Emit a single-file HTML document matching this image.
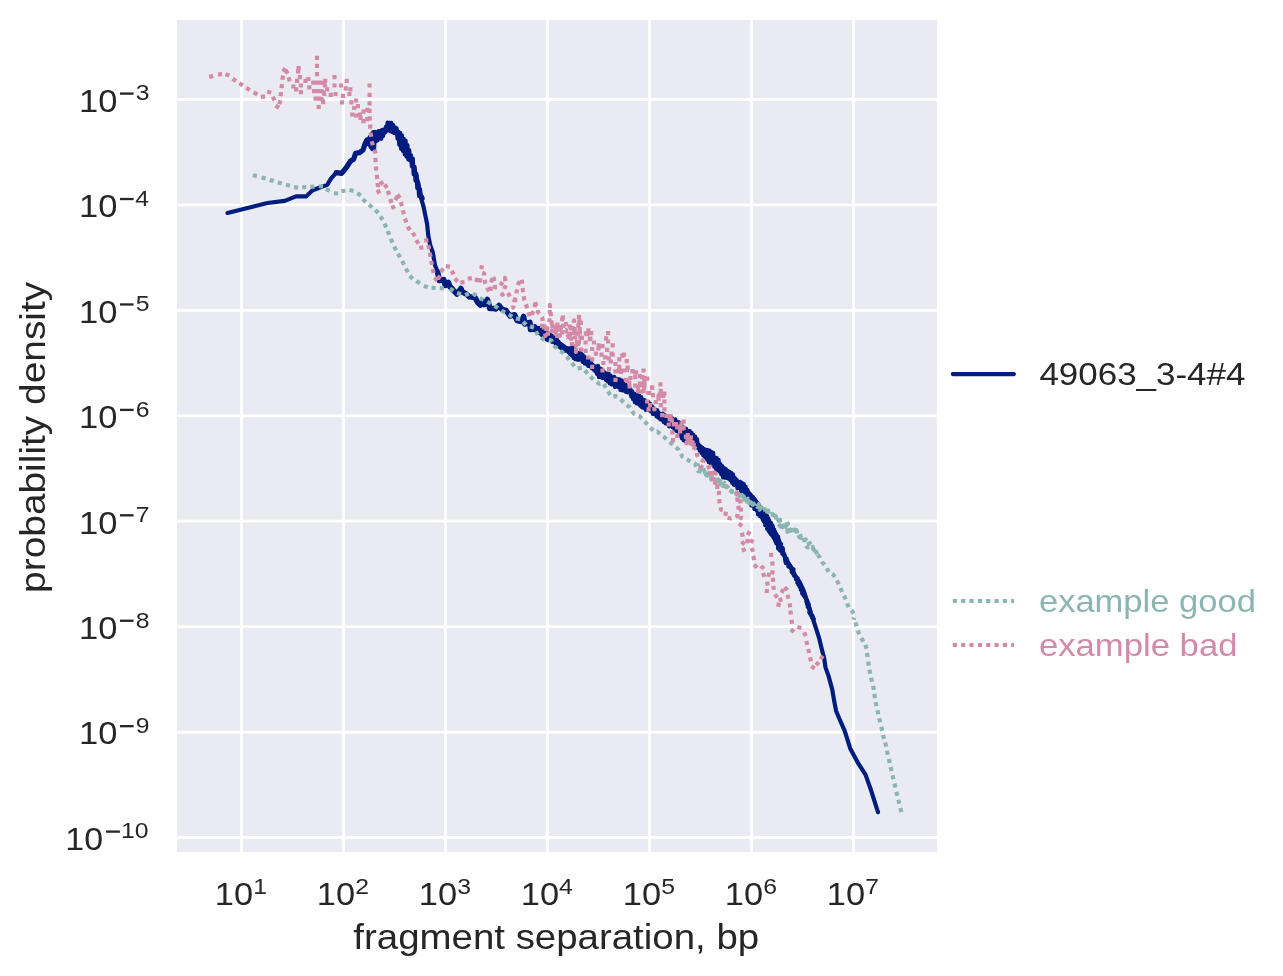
<!DOCTYPE html>
<html><head><meta charset="utf-8"><style>
html,body{margin:0;padding:0;background:#fff;width:1283px;height:976px;overflow:hidden}
svg{display:block;will-change:transform}
text{font-family:"Liberation Sans",sans-serif}
</style></head><body>
<svg width="1283" height="976" viewBox="0 0 1283 976">
<defs><clipPath id="pc"><rect x="177" y="20" width="760" height="832"/></clipPath></defs>
<rect x="177" y="20" width="760" height="832" fill="#eaeaf2"/>
<path d="M241.50 20V852 M343.50 20V852 M445.50 20V852 M547.50 20V852 M649.50 20V852 M751.50 20V852 M853.50 20V852 M177 99.50H937 M177 204.93H937 M177 310.36H937 M177 415.79H937 M177 521.22H937 M177 626.65H937 M177 732.08H937 M177 837.51H937" stroke="#fff" stroke-width="2.78" fill="none"/>
<g clip-path="url(#pc)"><path d="M227.5 213.0 L267.4 203.0 L284.8 200.9 L296.0 196.4 L306.0 196.4 L312.3 190.5 L318.5 188.0 L327.2 184.9 L331.0 178.7 L336.3 172.6 L341.6 173.3 L345.0 169.3 L347.0 166.6 L350.3 161.3 L353.6 159.3 L355.6 153.3 L359.6 152.6 L363.0 150.0 L365.0 144.0 L367.0 140.0 L369.6 142.0 L371.6 148.0 L373.6 145.3 L375.0 138.6 L380.0 134.6 L385.0 131.8 L390.0 127.0 L395.0 130.5 L400.0 140.0 L405.0 148.0 L410.0 155.5 L413.0 165.0 L416.0 174.5 L418.5 185.0 L421.3 199.0 L423.6 206.8 L425.5 216.2 L427.1 224.0 L428.3 235.7 L430.2 245.0 L432.9 252.8 L434.1 260.0 L435.1 265.6 L437.5 271.8 L439.5 280.5 L443.7 279.5 L445.3 285.5 L448.4 282.5 L449.9 286.5 L453.1 290.0 L457.0 294.0 L460.9 288.5 L462.4 292.0 L466.3 294.0 L469.4 296.8 L474.9 297.5 L478.0 302.8 L480.3 305.0 L481.9 301.4 L484.2 304.5 L487.4 299.5 L488.9 304.6 L489.7 308.5 L493.6 308.5 L495.9 309.0 L499.0 305.5 L502.2 309.5 L506.1 310.5 L510.0 316.0 L514.6 314.8 L517.0 320.5 L521.6 321.5 L523.6 316.5 L524.9 324.0 L529.9 322.3 L530.5 329.5 L534.9 329.0 L541.1 328.6 L542.3 333.0 L549.8 337.3 L554.8 339.8 L561.0 345.5 L567.3 349.5 L573.5 348.5 L574.8 355.0 L579.8 353.5 L586.0 359.2 L591.0 364.2 L598.5 369.0 L604.7 373.0 L612.0 380.0 L620.0 385.0 L628.0 390.5 L637.0 399.0 L645.0 403.5 L655.0 411.0 L665.0 418.0 L677.0 424.8 L690.0 436.5 L700.0 446.0 L710.0 456.0 L720.0 465.0 L730.0 474.0 L740.0 484.0 L750.0 494.0 L756.0 501.0 L762.4 511.0 L767.4 519.0 L772.4 527.0 L777.4 536.5 L778.6 543.5 L782.4 550.0 L784.9 557.0 L788.6 563.5 L792.3 569.0 L794.8 575.0 L799.8 582.5 L803.6 590.3 L806.1 598.0 L808.6 605.0 L809.9 613.0 L813.0 619.0 L816.1 628.7 L819.3 638.7 L821.7 648.7 L824.2 658.6 L825.5 667.4 L828.6 676.1 L832.3 689.8 L834.2 701.0 L836.1 711.0 L839.8 719.7 L844.7 730.9 L850.2 748.4 L857.8 762.6 L865.5 774.6 L870.9 789.8 L878.0 812.2" stroke="#001c7f" stroke-width="4.17" stroke-linejoin="round" stroke-linecap="round" fill="none"/>
<path d="M437.5 271.8 L439.5 280.5 L443.7 279.5 L445.3 285.5 L448.4 282.5 L449.9 286.5 L453.1 290.0 L457.0 294.0 L460.9 288.5 L462.4 292.0 L466.3 294.0 L469.4 296.8 L474.9 297.5 L478.0 302.8 L480.3 305.0 L481.9 301.4 L484.2 304.5 L487.4 299.5 L488.9 304.6 L489.7 308.5 L493.6 308.5 L495.9 309.0 L499.0 305.5 L502.2 309.5 L506.1 310.5 L510.0 316.0 L514.6 314.8 L517.0 320.5 L521.6 321.5 L523.6 316.5 L524.9 324.0 L529.9 322.3 L530.5 329.5 L534.9 329.0 L541.1 328.6 L542.3 333.0 L549.8 337.3 L554.8 339.8 L561.0 345.5 L567.3 349.5 L573.5 348.5 L574.8 355.0 L579.8 353.5 L586.0 359.2 L591.0 364.2" stroke="#001c7f" stroke-width="5.6" stroke-linejoin="round" stroke-linecap="round" fill="none"/>
<path d="M336.3 172.6 L341.6 173.3 L345.0 169.3 L347.0 166.6 L350.3 161.3 L353.6 159.3 L355.6 153.3 L359.6 152.6 L363.0 150.0 L365.0 144.0 L367.0 140.0" stroke="#001c7f" stroke-width="5.2" stroke-linejoin="round" stroke-linecap="round" fill="none"/>
<path d="M366.0 141.0 L366.9 143.3 L367.8 139.7 L368.7 144.4 L369.6 137.0 L370.5 146.8 L371.4 134.0 L372.3 149.1 L373.2 132.1 L374.1 148.6 L375.0 131.8 L375.9 141.2 L376.8 132.7 L377.7 140.4 L378.6 131.2 L379.5 138.3 L380.4 131.2 L381.3 138.8 L382.2 129.9 L383.1 135.9 L384.0 129.5 L384.9 132.7 L385.8 126.8 L386.7 130.7 L387.6 122.6 L388.5 130.0 L389.4 122.9 L390.3 131.2 L391.2 122.8 L392.1 131.9 L393.0 124.7 L393.9 132.8 L394.8 127.1 L395.7 133.5 L396.6 128.4 L397.5 138.6 L398.4 131.7 L399.3 144.8 L400.2 132.9 L401.1 148.9 L402.0 135.3 L402.9 151.0 L403.8 138.8 L404.7 154.5 L405.6 140.5 L406.5 156.7 L407.4 145.0 L408.3 159.4 L409.2 150.2 L410.1 160.4 L411.0 155.2 L411.9 166.4 L412.8 158.5 L413.7 174.4 L414.6 166.8 L415.5 180.7 L416.4 174.0 L417.3 188.2 L418.2 182.5 L419.1 196.0 L420.0 189.3 L420.9 197.2 L421.8 196.4 L422.7 198.6" stroke="#001c7f" stroke-width="4.17" stroke-linejoin="round" stroke-linecap="round" fill="none"/>
<path d="M535.0 326.0 L535.9 330.6 L536.8 327.8 L537.7 332.7 L538.6 328.4 L539.5 333.2 L540.4 328.8 L541.3 334.8 L542.2 331.1 L543.1 337.0 L544.0 332.7 L544.9 337.2 L545.8 332.9 L546.7 339.6 L547.6 333.1 L548.5 340.3 L549.4 334.4 L550.3 340.2 L551.2 335.2 L552.1 342.0 L553.0 336.5 L553.9 341.8 L554.8 338.2 L555.7 344.4 L556.6 338.8 L557.5 344.9 L558.4 341.6 L559.3 347.0 L560.2 344.0 L561.1 348.3 L562.0 344.7 L562.9 348.6 L563.8 346.2 L564.7 350.8 L565.6 348.7 L566.5 350.6 L567.4 348.5 L568.3 352.1 L569.2 349.0 L570.1 354.1 L571.0 349.4 L571.9 355.7 L572.8 348.0 L573.7 358.1 L574.6 350.3 L575.5 359.2 L576.4 353.0 L577.3 359.7 L578.2 353.7 L579.1 359.8 L580.0 355.7 L580.9 359.1 L581.8 358.0 L582.7 361.9 L583.6 359.7 L584.5 363.3 L585.4 359.4 L586.3 363.8 L587.2 359.4 L588.1 365.9 L589.0 360.5 L589.9 366.3 L590.8 362.8 L591.7 368.1 L592.6 365.0 L593.5 369.5 L594.4 366.4 L595.3 371.5 L596.2 366.5 L597.1 374.0 L598.0 365.9 L598.9 377.1 L599.8 368.3 L600.7 377.1 L601.6 369.4 L602.5 378.0 L603.4 371.0 L604.3 378.0 L605.2 373.2 L606.1 380.2 L607.0 373.5 L607.9 381.5 L608.8 373.9 L609.7 383.3 L610.6 375.5 L611.5 384.4 L612.4 377.6 L613.3 384.6 L614.2 376.8 L615.1 387.0 L616.0 378.5 L616.9 386.4 L617.8 379.3 L618.7 387.2 L619.6 379.3 L620.5 390.0 L621.4 380.4 L622.3 390.3 L623.2 381.3 L624.1 390.6 L625.0 383.3 L625.9 391.9 L626.8 385.5 L627.7 392.4 L628.6 386.2 L629.5 391.8 L630.4 388.8 L631.3 396.4 L632.2 391.2 L633.1 399.2 L634.0 393.5 L634.9 402.2 L635.8 394.1 L636.7 403.4 L637.6 395.3 L638.5 403.9 L639.4 395.6 L640.3 405.7 L641.2 397.1 L642.1 407.4 L643.0 399.5 L643.9 407.8 L644.8 400.4 L645.7 409.8 L646.6 402.0 L647.5 409.5 L648.4 402.1 L649.3 410.3 L650.2 403.7 L651.1 411.4 L652.0 406.2 L652.9 413.9 L653.8 408.3 L654.7 414.3 L655.6 409.7 L656.5 416.4 L657.4 410.4 L658.3 417.5 L659.2 413.4 L660.1 419.1 L661.0 414.0 L661.9 419.9 L662.8 413.7 L663.7 421.9 L664.6 414.9 L665.5 423.3 L666.4 417.1 L667.3 423.9 L668.2 416.8 L669.1 426.3 L670.0 418.2 L670.9 426.2 L671.8 417.7 L672.7 427.2 L673.6 420.0 L674.5 429.6 L675.4 419.3 L676.3 430.8 L677.2 421.7 L678.1 431.5 L679.0 422.3 L679.9 434.8 L680.8 423.7 L681.7 438.1 L682.6 427.2 L683.5 440.1 L684.4 427.8 L685.3 441.2 L686.2 428.9 L687.1 441.5 L688.0 431.0 L688.9 440.7 L689.8 431.2 L690.7 441.6 L691.6 432.8 L692.5 443.3 L693.4 434.8 L694.3 444.3 L695.2 436.6 L696.1 447.0 L697.0 439.1 L697.9 447.9 L698.8 445.9 L699.7 450.6 L700.6 446.7 L701.5 453.2 L702.4 447.9 L703.3 455.3 L704.2 449.0 L705.1 457.1 L706.0 449.9 L706.9 459.3 L707.8 450.0 L708.7 462.2 L709.6 450.7 L710.5 463.2 L711.4 452.1 L712.3 464.9 L713.2 452.9 L714.1 466.6 L715.0 457.5 L715.9 468.9 L716.8 458.1 L717.7 470.2 L718.6 459.8 L719.5 471.5 L720.4 464.1 L721.3 474.4 L722.2 466.0 L723.1 477.5 L724.0 468.2 L724.9 477.6 L725.8 469.1 L726.7 478.0 L727.6 470.8 L728.5 478.6 L729.4 471.9 L730.3 479.9 L731.2 472.8 L732.1 482.8 L733.0 474.3 L733.9 484.8 L734.8 477.9 L735.7 485.3 L736.6 479.8 L737.5 488.2 L738.4 481.9 L739.3 488.0 L740.2 481.9 L741.1 491.0 L742.0 483.0 L742.9 493.5 L743.8 484.0 L744.7 496.3 L745.6 486.5 L746.5 497.7 L747.4 489.9 L748.3 498.4 L749.2 493.7 L750.1 498.2 L751.0 496.2 L751.9 501.8 L752.8 497.0 L753.7 504.3 L754.6 499.5 L755.5 506.0 L756.4 502.8 L757.3 509.6 L758.2 503.7 L759.1 511.7 L760.0 507.3 L760.9 514.4 L761.8 509.1 L762.7 516.5 L763.6 512.6 L764.5 518.1 L765.4 514.7 L766.3 521.0 L767.2 516.1 L768.1 523.4 L769.0 520.5 L769.9 526.9 L770.8 522.7 L771.7 531.0 L772.6 527.4" stroke="#001c7f" stroke-width="4.17" stroke-linejoin="round" stroke-linecap="round" fill="none"/>
<path d="M748.2 500.0 L754.4 500.9 L748.4 501.8 L755.4 502.7 L750.9 503.6 L756.9 504.5 L751.2 505.4 L758.2 506.3 L754.1 507.2 L760.0 508.1 L754.3 509.0 L760.1 509.9 L757.0 510.8 L762.3 511.7 L757.9 512.6 L762.7 513.5 L758.0 514.4 L765.3 515.3 L759.9 516.2 L765.7 517.1 L762.0 518.0 L768.4 518.9 L762.8 519.8 L769.0 520.7 L764.0 521.6 L770.2 522.5 L765.1 523.4 L771.6 524.3 L765.2 525.2 L772.6 526.1 L767.4 527.0 L772.8 527.9 L767.0 528.8 L774.1 529.7 L768.5 530.6 L774.2 531.5 L769.6 532.4 L775.0 533.3 L770.9 534.2 L776.4 535.1 L772.4 536.0 L778.1 536.9 L773.6 537.8 L778.5 538.7 L774.6 539.6 L779.1 540.5 L775.5 541.4 L779.7 542.3 L776.2 543.2 L781.1 544.1 L777.7 545.0 L780.6 545.9 L778.1 546.8 L782.6 547.7 L778.1 548.6 L783.0 549.5 L779.9 550.4 L782.9 551.3 L781.9 552.2 L783.3 553.1 L782.5 554.0 L784.5 554.9 L784.4 555.8 L784.9 556.7 L784.8 557.6 L786.6 558.5 L785.1 559.4 L787.1 560.3 L785.3 561.2 L787.6 562.1 L785.8 563.0 L788.7 563.9 L788.2 564.8 L790.1 565.7 L788.4 566.6 L790.9 567.5 L790.9 568.4 L793.5 569.3 L791.7 570.2 L793.1 571.1 L791.8 572.0 L793.8 572.9 L793.1 573.8 L794.3 574.7 L794.0 575.6 L795.2 576.5 L795.9 577.4 L797.6 578.3 L796.0 579.2 L797.3 580.1 L797.7 581.0 L798.5 581.9 L797.4 582.8 L799.0 583.7 L798.4 584.6 L800.6 585.5 L799.5 586.4 L800.8 587.3 L800.4 588.2 L801.2 589.1 L800.9 590.0 L802.0 590.9 L802.0 591.8 L802.5 592.7 L802.2 593.6 L803.5 594.5 L803.5 595.4 L804.6 596.3 L805.0 597.2 L805.5 598.1 L806.0 599.0 L806.2 599.9 L807.1 600.8 L806.4 601.7 L806.8 602.6 L808.3 603.5 L807.2 604.4 L808.6 605.3 L808.7 606.2 L807.8 607.1 L809.6 608.0 L809.8 608.9 L809.8 609.8 L810.0 610.7 L810.7 611.6 L809.5 612.5 L810.9 613.4 L810.8 614.3 L812.2 615.2 L812.2 616.1 L813.0 617.0 L812.6 617.9 L813.8 618.8" stroke="#001c7f" stroke-width="4.17" stroke-linejoin="round" stroke-linecap="round" fill="none"/>
<path d="M252.89 175.05L256.91 176.15M261.60 177.42L265.60 178.58M269.71 179.89L273.69 181.11M277.80 182.41L281.80 183.59M285.99 184.75L290.01 185.85M293.93 187.16L298.07 187.64M302.12 187.28L306.28 187.12M310.22 186.90L314.38 186.70M318.96 185.99L323.04 186.81M325.91 189.02L329.69 190.78M333.92 193.27L338.08 193.53M341.35 191.28L345.45 190.52M349.46 190.06L353.54 190.94M357.36 193.01L360.64 195.59M362.93 199.12L365.87 202.08M369.03 204.62L372.17 207.38M375.40 209.95L378.20 213.05M380.41 216.32L382.59 219.88M384.51 223.62L386.29 227.38M387.71 230.97L389.29 234.83M390.79 238.78L392.41 242.62M394.17 246.64L396.03 250.36M397.99 253.68L400.01 257.32M402.12 261.06L404.08 264.74M405.88 268.58L407.92 272.22M409.76 275.79L412.64 278.81M416.34 281.08L419.86 283.32M423.84 285.89L427.76 287.31M431.53 287.59L435.67 288.01M439.72 288.10L443.88 288.30" stroke="#8ab5b0" stroke-width="4.17" fill="none"/>
<path d="M449.9 288.6 L457.0 292.9 L464.4 295.2 L472.2 292.9 L479.2 297.9 L486.6 301.4 L494.0 305.3 L500.6 310.0 L507.6 313.9 L514.6 318.2 L520.9 319.4 L526.1 324.8 L534.2 327.9 L538.0 335.4 L543.0 339.2 L551.1 340.4 L554.8 346.6 L561.7 351.6 L566.7 356.6 L571.6 362.8 L576.6 368.5 L582.2 367.8 L590.0 376.1 L593.9 380.0 L599.4 383.9 L603.2 383.1 L606.4 388.6 L611.2 396.7 L615.6 396.1 L620.6 399.2 L626.2 404.8 L629.9 407.3 L633.7 413.5 L639.3 416.0 L645.5 422.3 L649.9 427.3 L654.9 432.2 L657.4 431.6 L663.6 436.6 L668.6 441.0 L673.6 445.3 L678.6 449.7 L682.5 456.8 L688.7 460.5 L695.0 463.6 L698.1 471.1 L704.9 472.4 L708.7 479.9 L716.2 478.0 L719.9 481.1 L723.6 484.8 L731.1 491.1 L737.4 493.6 L741.1 496.1 L747.3 501.0 L754.8 504.8 L759.8 507.3 L764.8 511.0 L769.8 511.6 L774.8 516.0 L779.9 519.4 L776.1 521.8 L781.1 526.8 L788.0 523.7 L787.4 531.8 L794.8 530.0 L799.8 537.4 L803.6 536.2 L804.8 543.7 L807.3 547.4 L811.0 546.2 L816.0 552.4 L819.8 557.4 L822.3 562.4 L826.0 566.1 L828.5 572.3 L833.5 574.8 L837.2 581.1 L839.1 584.8 L842.2 592.3 L846.0 599.8 L848.5 607.3 L852.2 611.0 L854.7 616.0 L853.4 619.7" stroke="#8ab5b0" stroke-width="4.17" stroke-dasharray="4.17 4.17" stroke-linejoin="round" fill="none"/>
<path d="M855.39 622.31L856.61 626.29M857.72 630.47L859.28 634.33M861.34 638.05L863.26 641.75M865.34 644.82L866.66 648.78M866.99 652.84L867.61 656.96M868.19 661.54L868.81 665.66M869.41 669.65L870.19 673.75M871.14 677.77L872.06 681.83M873.11 685.85L873.89 689.95M874.38 693.94L875.02 698.06M875.60 702.05L876.40 706.15M877.44 710.17L878.36 714.23M879.22 718.27L880.18 722.33M881.33 726.67L882.27 730.73M883.00 734.88L884.00 738.92M885.21 742.57L886.19 746.63M886.85 750.66L887.75 754.74M888.83 758.87L889.77 762.93M890.64 767.07L891.56 771.13M892.53 775.27L893.47 779.33M894.42 783.47L895.38 787.53M896.41 791.67L897.39 795.73M898.30 799.78L899.30 803.82M900.38 807.98L901.42 812.02" stroke="#8ab5b0" stroke-width="4.17" fill="none"/>
<path d="M697.3 463.4 L698.3 467.9 L699.8 467.2 L701.5 472.5 L703.9 469.9 L705.7 475.1 L707.2 473.4 L709.4 477.5 L710.6 474.8 L712.6 478.6 L714.4 477.4 L715.0 480.8 L717.8 479.4 L719.5 484.0 L720.8 481.1 L722.5 485.8 L724.6 483.0 L726.1 487.1 L727.0 486.1 L729.7 489.8 L731.1 488.8 L732.0 492.0 L734.7 489.8 L736.4 494.3 L737.8 492.4 L739.4 496.2 L741.8 495.0 L743.7 499.6 L743.8 496.4 L746.8 501.5 L747.9 498.6 L749.2 503.3 L750.9 500.0 L752.5 504.7 L755.5 503.0 L757.0 506.8 L758.8 504.1 L759.5 509.6 L761.6 507.5 L762.5 511.1 L764.9 509.2 L766.1 513.0 L768.1 510.4 L769.3 515.9 L772.3 513.9 L774.2 518.2 L775.8 516.1 L776.7 520.2 L779.4 518.2 L780.1 523.2 L781.6 522.3 L783.1 527.0 L785.1 523.2 L786.7 527.8 L788.8 526.3 L790.3 530.9 L792.8 527.2 L794.1 533.0 L796.3 530.0 L797.7 534.0 L799.4 532.9 L801.1 537.9 L802.1 536.5 L804.8 540.1 L805.8 539.4 L807.2 544.6 L810.0 543.2 L811.1 547.8 L812.7 547.0 L813.8 551.6 L815.5 550.2 L817.7 555.8" stroke="#8ab5b0" stroke-width="4.17" stroke-dasharray="4.17 4.17" stroke-dashoffset="2" stroke-linejoin="round" fill="none"/>
<path d="M209.17 76.88L213.23 75.92M217.92 74.49L222.08 74.11M225.46 74.14L229.34 75.66M232.58 78.72L236.02 81.08M239.36 83.16L242.84 85.44M246.24 87.79L249.76 90.01M253.65 92.44L257.35 94.36M260.92 96.90L265.08 96.50M267.15 91.73L271.25 92.47M272.59 96.78L274.61 100.42M275.51 105.63L279.09 107.77M279.24 104.31L280.36 100.29M280.56 96.27L281.04 92.13M281.46 88.17L281.94 84.03M282.38 79.76L283.02 75.64M283.03 71.63L285.37 68.17M285.72 69.96L287.68 73.64M288.54 77.32L289.86 81.28" stroke="#d48aa6" stroke-width="4.17" fill="none"/>
<path d="M370.56 132.74L371.24 136.86M371.79 141.18L372.81 145.22M374.71 149.55L375.49 153.65M375.39 157.92L375.61 162.08M375.82 166.42L376.18 170.58M376.77 174.83L377.23 178.97M377.60 182.92L378.00 187.08M376.55 192.57L380.25 190.63M379.92 184.23L383.28 181.77M384.60 184.50L387.00 187.90M387.82 190.83L389.18 194.77M390.25 199.02L391.55 202.98M391.35 208.16L395.05 206.24M395.37 200.07L397.23 196.33M397.24 194.72L399.96 197.88M400.81 202.10L401.99 206.10M402.77 210.28L403.83 214.32M405.02 218.53L406.38 222.47M407.76 226.50L409.84 230.10M412.69 232.74L414.91 236.26M416.37 240.09L418.43 243.71M419.25 248.07L423.35 247.33M424.22 240.50L428.38 240.10M428.16 244.99L429.24 249.01M429.83 252.75L430.57 256.85M431.22 260.85L431.98 264.95M432.67 268.98L433.73 273.02M434.49 277.67L437.31 280.73M437.81 279.01L440.19 275.59M440.77 271.91L443.43 268.69M445.96 265.96L450.04 266.84M451.62 270.81L453.78 274.39M454.73 278.53L457.67 281.47M460.33 282.54L464.47 282.06M467.74 278.73L471.86 278.07M474.75 279.60L478.85 280.40M477.93 280.14L482.07 280.66" stroke="#d48aa6" stroke-width="4.17" fill="none"/>
<path d="M481.9 265.2 L481.1 272.2 L484.2 273.4 L485.0 282.0 L488.1 289.8 L490.5 292.9 L490.9 284.3 L492.8 275.7 L494.0 278.8 L495.1 287.4 L499.8 286.6 L504.9 277.7 L506.1 284.3 L502.2 294.8 L507.6 292.5 L511.5 299.1 L515.4 300.7 L513.1 307.7 L516.6 292.1 L518.5 283.5 L521.6 278.8 L523.0 291.1 L524.3 299.9 L527.4 308.6 L529.9 317.3 L534.9 309.2 L534.9 300.5 L538.0 312.0 L542.3 318.0 L543.6 326.1 L545.5 336.0 L547.3 327.3 L549.4 321.6 L549.8 313.6 L549.8 304.9 L551.7 322.3 L551.7 330.9 L555.6 327.0 L557.9 335.6 L559.8 336.0 L561.8 322.3 L562.9 314.2 L563.4 330.1 L566.0 329.8 L567.3 337.3 L572.7 327.8 L573.5 321.6 L574.1 320.4 L575.1 335.6 L575.1 343.4 L576.6 348.1 L575.9 352.0 L578.5 324.8 L579.1 314.8 L579.8 331.7 L580.5 337.9 L583.5 339.8" stroke="#d48aa6" stroke-width="4.17" stroke-dasharray="4.17 4.17" stroke-linejoin="round" fill="none"/>
<path d="M693.1 440.1 L690.8 445.6 L697.0 449.5 L697.0 454.9 L699.4 458.8 L703.6 461.2 L700.1 465.9 L704.8 469.0 L710.3 466.6 L710.3 471.3 L708.7 476.0 L717.3 470.5 L711.8 479.1 L717.3 479.1 L713.4 486.9 L719.6 486.9 L718.8 494.7 L719.6 503.3 L721.1 509.8 L726.1 511.0 L724.9 517.3 L731.1 518.5 L737.4 516.0 L738.6 507.3 L737.4 499.8 L736.8 492.4 L740.7 503.3 L741.1 517.3 L738.6 523.5 L742.3 526.0" stroke="#d48aa6" stroke-width="4.17" stroke-dasharray="4.17 4.17" stroke-linejoin="round" fill="none"/>
<path d="M740.28 535.21L744.32 534.19M746.98 531.92L750.42 534.28M752.83 539.39L750.77 543.01M744.52 541.47L741.68 544.53M741.77 550.69L745.63 549.11M745.41 541.20L749.59 541.20M751.68 547.94L753.12 551.86M753.30 555.95L754.10 560.05M754.18 564.57L757.02 567.63M760.98 565.87L763.82 568.93M763.09 572.81L764.31 576.79M767.01 581.55L767.79 585.65M766.50 593.06L767.10 588.94M768.10 576.80L769.30 572.80M771.75 574.28L773.05 570.32M772.56 565.68L772.24 561.52M771.02 552.82L771.18 556.98M772.84 577.72L773.16 581.88M773.21 585.85L773.99 589.95M775.05 594.20L777.15 597.80M779.93 597.79L781.07 601.81M778.16 606.84L779.04 602.76M781.52 592.89L783.28 589.11M784.64 587.11L787.56 590.09M787.54 594.67L788.46 598.73M789.56 603.34L790.24 607.46M790.36 610.43L790.84 614.57M791.59 619.73L792.01 623.87M790.74 629.34L794.06 631.86M797.30 626.91L801.30 628.09M803.99 632.42L805.81 636.18M806.34 640.97L807.26 645.03M808.24 649.07L809.16 653.13M809.97 657.28L811.03 661.32M811.23 666.30L814.77 668.50M816.03 665.17L818.77 662.03M820.51 659.11L822.89 655.69" stroke="#d48aa6" stroke-width="4.17" fill="none"/>
<path d="M291.3 86.5h4.17 M294.1 89.3h4.17 M298.8 92.1h4.17 M298.8 85.5h4.17 M295.0 80.9h4.17 M296.0 71.5h4.17 M296.5 68.2h4.17 M297.8 77.1h4.17 M303.4 80.9h4.17 M306.3 79.0h4.17 M307.2 87.4h4.17 M314.9 57.8h4.17 M314.9 65.8h4.17 M314.9 74.1h4.17 M316.6 107.0h4.17 M323.1 80.9h4.17 M325.0 89.3h4.17 M328.7 94.9h4.17 M333.4 94.0h4.17 M332.4 85.5h4.17 M332.4 77.1h4.17 M339.0 85.5h4.17 M340.9 95.8h4.17 M339.9 102.4h4.17 M344.6 80.9h4.17 M343.7 88.4h4.17 M348.3 89.3h4.17 M347.4 94.0h4.17 M349.3 102.4h4.17 M354.0 100.5h4.17 M352.1 108.0h4.17 M355.8 106.1h4.17 M350.2 114.5h4.17 M353.9 115.5h4.17 M357.7 114.5h4.17 M361.4 111.7h4.17 M365.2 109.9h4.17 M361.4 121.1h4.17 M365.2 119.2h4.17 M358.4 118.0h4.17 M367.5 85.5h4.17 M367.5 94.9h4.17 M367.5 103.3h4.17 M367.5 110.8h4.17 M367.7 118.3h4.17 M368.1 126.7h4.17 M578.8 322.8h4.17 M586.3 330.3h4.17 M589.1 333.1h4.17 M579.8 337.8h4.17 M583.5 342.5h4.17 M588.2 338.7h4.17 M591.9 342.5h4.17 M596.6 345.3h4.17 M600.4 346.2h4.17 M583.5 350.9h4.17 M590.1 349.0h4.17 M593.8 353.7h4.17 M599.4 354.6h4.17 M590.1 359.3h4.17 M590.1 366.8h4.17 M606.0 333.1h4.17 M606.0 341.5h4.17 M610.6 345.3h4.17 M605.0 349.9h4.17 M610.6 354.6h4.17 M606.9 358.4h4.17 M601.3 363.0h4.17 M600.4 370.5h4.17 M603.2 357.4h4.17 M617.2 359.3h4.17 M621.9 354.6h4.17 M613.4 364.0h4.17 M624.7 361.2h4.17 M617.2 366.8h4.17 M613.4 371.4h4.17 M613.4 379.9h4.17 M620.9 370.5h4.17 M625.6 367.7h4.17 M630.3 371.4h4.17 M634.0 372.4h4.17 M641.5 370.5h4.17 M623.7 379.9h4.17 M628.4 378.0h4.17 M633.1 377.1h4.17 M637.8 376.1h4.17 M642.4 378.0h4.17 M627.5 386.4h4.17 M633.1 385.5h4.17 M637.8 383.6h4.17 M642.4 384.5h4.17 M635.9 391.1h4.17 M641.5 391.1h4.17 M646.2 393.0h4.17 M649.9 387.4h4.17 M640.1 377.2h4.17 M642.2 380.7h4.17 M639.3 384.3h4.17 M642.2 387.2h4.17 M639.3 391.5h4.17 M650.1 387.9h4.17 M647.2 392.9h4.17 M650.8 395.1h4.17 M658.3 384.3h4.17 M658.7 390.8h4.17 M662.3 393.6h4.17 M656.5 398.7h4.17 M662.3 401.5h4.17 M645.1 401.5h4.17 M647.9 405.1h4.17 M646.5 409.4h4.17 M653.7 402.2h4.17 M658.7 405.1h4.17 M662.3 409.4h4.17 M660.1 415.1h4.17 M664.4 415.9h4.17 M666.6 424.5h4.17 M671.6 424.5h4.17 M675.2 427.3h4.17 M681.6 421.6h4.17 M681.6 428.0h4.17 M678.0 430.2h4.17 M670.2 432.3h4.17 M675.2 435.9h4.17 M683.8 436.6h4.17 M687.4 438.1h4.17 M670.9 440.2h4.17 M684.5 443.1h4.17 M608.7 361.5h4.17 M680.4 428.5h4.17 M617.1 369.3h4.17 M568.0 333.8h4.17 M635.7 387.1h4.17 M554.2 327.3h4.17 M553.7 333.4h4.17 M645.3 378.6h4.17 M689.2 443.7h4.17 M639.3 385.3h4.17 M563.9 324.1h4.17 M620.2 355.7h4.17 M568.8 328.4h4.17 M544.5 328.3h4.17 M606.9 369.1h4.17 M618.8 371.8h4.17 M615.9 370.9h4.17 M609.4 353.7h4.17 M691.6 444.8h4.17 M667.6 419.1h4.17 M587.8 339.2h4.17 M583.8 333.4h4.17 M656.4 396.7h4.17 M668.6 416.0h4.17 M685.5 440.5h4.17 M540.0 325.8h4.17 M678.3 426.5h4.17 M688.9 437.3h4.17 M551.0 330.8h4.17 M658.2 394.0h4.17 M553.2 327.6h4.17 M686.5 439.7h4.17 M557.8 327.1h4.17 M555.3 324.5h4.17 M661.1 395.9h4.17 M624.9 370.2h4.17 M568.9 338.7h4.17 M559.8 332.4h4.17 M557.6 329.3h4.17 M572.3 330.4h4.17 M687.5 441.0h4.17 M586.1 357.5h4.17 M571.9 333.0h4.17 M669.8 420.3h4.17 M555.2 335.9h4.17 M572.3 330.1h4.17 M657.4 395.0h4.17 M585.0 334.2h4.17 M553.6 330.7h4.17 M576.9 342.0h4.17 M596.4 348.4h4.17 M685.7 435.1h4.17 M627.2 382.6h4.17 M567.7 326.6h4.17 M678.0 431.4h4.17 M577.8 332.4h4.17 M652.3 409.1h4.17 M569.8 344.0h4.17 M674.0 424.0h4.17 M604.0 338.4h4.17 M545.8 333.6h4.17 M576.2 343.9h4.17 M579.0 349.5h4.17 M630.6 371.1h4.17 M566.6 337.2h4.17 M550.4 326.0h4.17 M624.9 380.9h4.17 M633.3 372.6h4.17 M679.4 423.5h4.17 M542.4 326.3h4.17" stroke="#d48aa6" stroke-width="4.17" fill="none"/>
<path d="M311.2 82.7H322Q325 83 325.3 87.4M312 91.2H322Q324.5 92 324.2 96M313.5 98.6H320.5Q323.5 99.5 323.4 104.2" stroke="#d48aa6" stroke-width="4.17" fill="none"/></g>
<text transform="matrix(0.34444,0,0,0.31571,214.84,905.00)" font-size="100" fill="#262626" >10</text>
<text transform="matrix(0.24759,0,0,0.22714,253.37,893.90)" font-size="100" fill="#262626">1</text>
<text transform="matrix(0.34444,0,0,0.31571,316.84,905.00)" font-size="100" fill="#262626" >10</text>
<text transform="matrix(0.24759,0,0,0.22714,355.37,893.90)" font-size="100" fill="#262626">2</text>
<text transform="matrix(0.34444,0,0,0.31571,418.84,905.00)" font-size="100" fill="#262626" >10</text>
<text transform="matrix(0.24759,0,0,0.22714,457.37,893.90)" font-size="100" fill="#262626">3</text>
<text transform="matrix(0.34444,0,0,0.31571,520.84,905.00)" font-size="100" fill="#262626" >10</text>
<text transform="matrix(0.24759,0,0,0.22714,558.88,893.90)" font-size="100" fill="#262626">4</text>
<text transform="matrix(0.34444,0,0,0.31571,622.84,905.00)" font-size="100" fill="#262626" >10</text>
<text transform="matrix(0.24759,0,0,0.22714,661.37,893.90)" font-size="100" fill="#262626">5</text>
<text transform="matrix(0.34444,0,0,0.31571,724.84,905.00)" font-size="100" fill="#262626" >10</text>
<text transform="matrix(0.24759,0,0,0.22714,763.37,893.90)" font-size="100" fill="#262626">6</text>
<text transform="matrix(0.34444,0,0,0.31571,826.84,905.00)" font-size="100" fill="#262626" >10</text>
<text transform="matrix(0.24759,0,0,0.22714,865.37,893.90)" font-size="100" fill="#262626">7</text>
<text transform="matrix(0.34545,0,0,0.31857,78.94,111.90)" font-size="100" fill="#262626" >10</text>
<rect x="120" y="92.45" width="13.6" height="2.3" fill="#262626"/>
<text transform="matrix(0.24759,0,0,0.22714,135.67,100.40)" font-size="100" fill="#262626">3</text>
<text transform="matrix(0.34545,0,0,0.31857,78.94,217.33)" font-size="100" fill="#262626" >10</text>
<rect x="120" y="197.88" width="13.6" height="2.3" fill="#262626"/>
<text transform="matrix(0.24759,0,0,0.22714,135.18,205.83)" font-size="100" fill="#262626">4</text>
<text transform="matrix(0.34545,0,0,0.31857,78.94,322.76)" font-size="100" fill="#262626" >10</text>
<rect x="120" y="303.31" width="13.6" height="2.3" fill="#262626"/>
<text transform="matrix(0.24759,0,0,0.22714,135.67,311.26)" font-size="100" fill="#262626">5</text>
<text transform="matrix(0.34545,0,0,0.31857,78.94,428.19)" font-size="100" fill="#262626" >10</text>
<rect x="120" y="408.74" width="13.6" height="2.3" fill="#262626"/>
<text transform="matrix(0.24759,0,0,0.22714,135.67,416.69)" font-size="100" fill="#262626">6</text>
<text transform="matrix(0.34545,0,0,0.31857,78.94,533.62)" font-size="100" fill="#262626" >10</text>
<rect x="120" y="514.17" width="13.6" height="2.3" fill="#262626"/>
<text transform="matrix(0.24759,0,0,0.22714,135.67,522.12)" font-size="100" fill="#262626">7</text>
<text transform="matrix(0.34545,0,0,0.31857,78.94,639.05)" font-size="100" fill="#262626" >10</text>
<rect x="120" y="619.60" width="13.6" height="2.3" fill="#262626"/>
<text transform="matrix(0.24759,0,0,0.22714,135.67,627.55)" font-size="100" fill="#262626">8</text>
<text transform="matrix(0.34545,0,0,0.31857,78.94,744.48)" font-size="100" fill="#262626" >10</text>
<rect x="120" y="725.03" width="13.6" height="2.3" fill="#262626"/>
<text transform="matrix(0.24759,0,0,0.22714,135.67,732.98)" font-size="100" fill="#262626">9</text>
<text transform="matrix(0.33939,0,0,0.31857,65.28,849.91)" font-size="100" fill="#262626" >10</text>
<rect x="106.0" y="830.46" width="13.9" height="2.3" fill="#262626"/>
<text transform="matrix(0.24759,0,0,0.22714,121.01,838.21)" font-size="100" fill="#262626">10</text>
<text transform="matrix(0.38440,0,0,0.35890,353.32,949.00)" font-size="100" fill="#262626" >fragment separation, bp</text>
<text transform="matrix(0,-0.38890,0.35342,0,44.90,592.92)" font-size="100" fill="#262626">probability density</text>
<path d="M952.8 374.1H1013.9" stroke="#001c7f" stroke-width="4.17" stroke-linecap="round" fill="none"/>
<text transform="matrix(0.34949,0,0,0.31571,1039.40,384.90)" font-size="100" fill="#262626" >49063_3-4#4</text>
<path d="M952.8 601H1014" stroke="#8ab5b0" stroke-width="4.17" stroke-dasharray="4.17 4.17" fill="none"/>
<text transform="matrix(0.34547,0,0,0.31370,1038.92,611.90)" font-size="100" fill="#8ab5b0" >example good</text>
<path d="M952.8 645H1014" stroke="#d48aa6" stroke-width="4.17" stroke-dasharray="4.17 4.17" fill="none"/>
<text transform="matrix(0.34680,0,0,0.31507,1038.91,656.00)" font-size="100" fill="#d48aa6" >example bad</text>
</svg></body></html>
